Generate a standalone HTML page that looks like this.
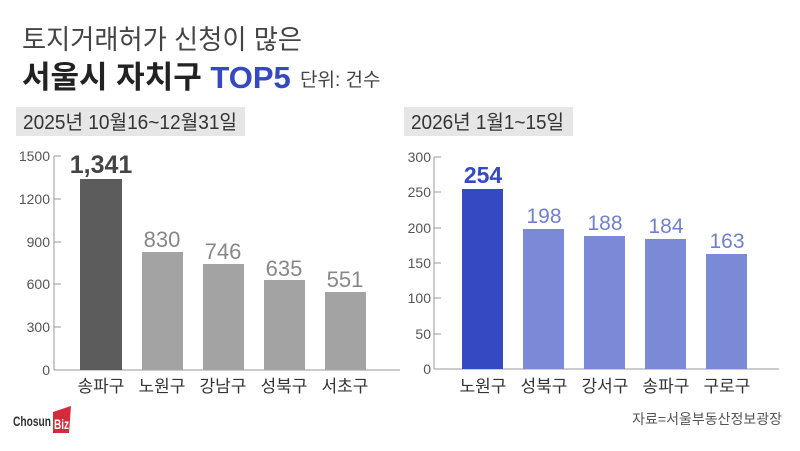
<!DOCTYPE html>
<html><head><meta charset="utf-8"><style>
body{margin:0;background:#fff;}
svg text{font-family:"Liberation Sans","Noto Sans CJK KR",sans-serif;}
</style></head><body>
<svg width="800" height="446" viewBox="0 0 800 446" xmlns="http://www.w3.org/2000/svg">
<text x="22" y="49" font-size="27" fill="#444" textLength="280" lengthAdjust="spacingAndGlyphs">토지거래허가 신청이 많은</text>
<text x="22" y="88" font-size="31" font-weight="bold" fill="#222">서울시 자치구 <tspan fill="#3549c2">TOP5</tspan></text>
<text x="300" y="86" font-size="19" fill="#444">단위: 건수</text>
<rect x="16" y="107" width="229" height="29" fill="#e6e6e6"/>
<text x="23" y="129" font-size="20" fill="#333" textLength="214" lengthAdjust="spacingAndGlyphs">2025년 10월16~12월31일</text>
<rect x="404" y="107" width="169" height="29" fill="#e6e6e6"/>
<text x="411" y="129" font-size="20" fill="#333" textLength="153" lengthAdjust="spacingAndGlyphs">2026년 1월1~15일</text>
<g stroke="#999" stroke-width="1">
<line x1="54" y1="156" x2="54" y2="370"/><line x1="54" y1="370" x2="400" y2="370"/>
<line x1="54" y1="156" x2="61" y2="156"/><line x1="54" y1="199" x2="61" y2="199"/><line x1="54" y1="242" x2="61" y2="242"/><line x1="54" y1="284" x2="61" y2="284"/><line x1="54" y1="327" x2="61" y2="327"/>
<line x1="434" y1="157" x2="434" y2="369"/><line x1="434" y1="369" x2="779" y2="369"/>
<line x1="434" y1="157" x2="441" y2="157"/><line x1="434" y1="192" x2="441" y2="192"/><line x1="434" y1="228" x2="441" y2="228"/><line x1="434" y1="263" x2="441" y2="263"/><line x1="434" y1="298" x2="441" y2="298"/><line x1="434" y1="334" x2="441" y2="334"/>
</g>
<g font-size="14" fill="#555" text-anchor="end">
<text x="50" y="161">1500</text><text x="50" y="204">1200</text><text x="50" y="247">900</text><text x="50" y="289">600</text><text x="50" y="332">300</text><text x="50" y="375">0</text>
<text x="431" y="162">300</text><text x="431" y="197">250</text><text x="431" y="233">200</text><text x="431" y="268">150</text><text x="431" y="303">100</text><text x="431" y="339">50</text><text x="431" y="374">0</text>
</g>
<rect x="80" y="179" width="42" height="191" fill="#5c5c5c"/>
<rect x="142" y="252" width="41" height="118" fill="#a3a3a3"/>
<rect x="203" y="264" width="41" height="106" fill="#a3a3a3"/>
<rect x="264" y="280" width="41" height="90" fill="#a3a3a3"/>
<rect x="325" y="292" width="41" height="78" fill="#a3a3a3"/>
<text x="101" y="173" font-size="25" font-weight="bold" fill="#444" text-anchor="middle">1,341</text>
<g font-size="22" fill="#888" text-anchor="middle">
<text x="162" y="247">830</text><text x="223" y="259">746</text><text x="284" y="276">635</text><text x="345" y="287">551</text>
</g>
<rect x="462" y="189" width="41" height="180" fill="#3549c2"/>
<rect x="523" y="229" width="41" height="140" fill="#7b8ad6"/>
<rect x="584" y="236" width="41" height="133" fill="#7b8ad6"/>
<rect x="645" y="239" width="41" height="130" fill="#7b8ad6"/>
<rect x="706" y="254" width="41" height="115" fill="#7b8ad6"/>
<text x="483" y="183" font-size="23" font-weight="bold" fill="#3549c2" text-anchor="middle">254</text>
<g font-size="21" fill="#7080cf" text-anchor="middle">
<text x="544" y="223">198</text><text x="605" y="230">188</text><text x="666" y="233">184</text><text x="727" y="248">163</text>
</g>
<g font-size="17" fill="#333" text-anchor="middle">
<text x="101" y="392">송파구</text><text x="162" y="392">노원구</text><text x="223" y="392">강남구</text><text x="284" y="392">성북구</text><text x="345" y="392">서초구</text>
<text x="483" y="392">노원구</text><text x="544" y="392">성북구</text><text x="605" y="392">강서구</text><text x="666" y="392">송파구</text><text x="727" y="392">구로구</text>
</g>
<text x="13" y="426" font-size="14" font-weight="bold" fill="#333" textLength="38" lengthAdjust="spacingAndGlyphs">Chosun</text>
<polygon points="53,412 71,406 69,433 53,433" fill="#d42a3c"/>
<text x="54" y="429" font-size="14" font-weight="bold" fill="#fff" textLength="15" lengthAdjust="spacingAndGlyphs">Biz</text>
<text x="782" y="424" font-size="14" fill="#555" text-anchor="end">자료=서울부동산정보광장</text>
</svg>
</body></html>
